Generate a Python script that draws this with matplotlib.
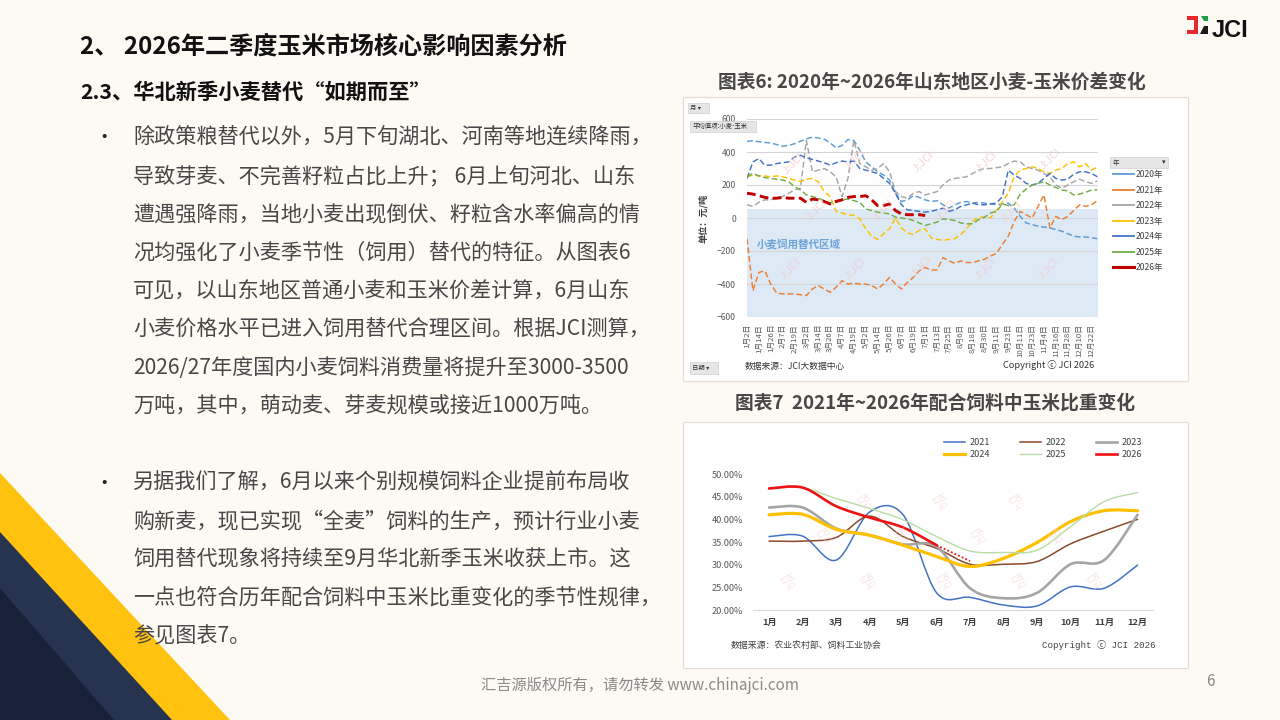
import matplotlib
matplotlib.use('Agg')
import matplotlib.pyplot as plt
from matplotlib.patches import Polygon, Rectangle, PathPatch
from matplotlib.path import Path
from matplotlib.lines import Line2D
import numpy as np

plt.rcParams['font.family'] = ['Noto Sans CJK SC', 'DejaVu Sans']

# ---------------- data: chart 6 (wheat - corn spread, yuan/ton) ----------------
date_labels = ["1月2日", "1月14日", "1月26日", "2月7日", "2月19日", "3月2日", "3月14日",
               "3月26日", "4月7日", "4月19日", "5月2日", "5月14日", "5月26日", "6月7日",
               "6月19日", "7月1日", "7月13日", "7月25日", "8月6日", "8月18日", "8月30日",
               "9月11日", "9月23日", "10月11日", "10月23日", "11月4日", "11月16日",
               "11月28日", "12月10日", "12月22日"]
spread_years = ["2020年", "2021年", "2022年", "2023年", "2024年", "2025年", "2026年"]
s2020 = [465, 468, 462, 458, 455, 445, 435, 440, 450, 465, 480, 490, 485, 478, 455,
         425, 440, 475, 470, 410, 340, 310, 280, 260, 230, 150, 100, 110, 135, 125,
         110, 100, 105, 80, 60, 80, 95, 100, 90, 95, 90, 85, 80, 85, 90,
         60, 10, -30, -40, -50, -55, -60, -70, -80, -95, -110, -115, -115, -120, -125]
s2021 = [-125, -440, -330, -320, -400, -455, -460, -460, -460, -465, -470, -430, -410, -430, -450,
         -420, -380, -400, -395, -400, -400, -410, -430, -400, -360, -400, -430, -390, -360, -320,
         -300, -315, -315, -240, -260, -275, -260, -270, -270, -260, -250, -230, -215, -160, -110,
         -20, 40, 20, 0, 70, 140, -60, 10, -10, 10, 45, 80, 70, 80, 105]
s2022 = [80, 70, 95, 110, 110, 120, 130, 150, 170, 180, 470, 280, 290, 300, 280,
         250, 130, 240, 470, 330, 310, 290, 300, 330, 280, 160, 130, 120, 150, 160,
         140, 150, 160, 200, 230, 240, 245, 250, 270, 290, 300, 300, 305, 310, 330,
         345, 340, 310, 300, 290, 270, 250, 200, 180, 200, 220, 235, 220, 210, 225]
s2023 = [250, 260, 255, 255, 250, 255, 250, 240, 230, 220, 235, 240, 220, 160, 130,
         40, 30, 20, 15, -5, -65, -110, -130, -95, -65, 0, -60, -90, -100, -75,
         -65, -120, -130, -135, -130, -125, -100, -65, -20, 5, 5, 0, 45, 100, 150,
         250, 290, 300, 310, 300, 280, 270, 290, 300, 330, 340, 310, 330, 290, 310]
s2024 = [240, 340, 360, 320, 320, 330, 335, 340, 370, 380, 365, 355, 345, 335, 320,
         335, 345, 340, 345, 300, 290, 280, 270, 240, 210, 150, 80, 50, 45, 40,
         35, 40, 50, 60, 40, 50, 70, 80, 90, 80, 80, 85, 90, 130, 290,
         260, 240, 210, 200, 210, 240, 270, 240, 230, 235, 265, 280, 280, 270, 250]
s2025 = [250, 270, 255, 245, 240, 235, 230, 220, 190, 170, 140, 130, 120, 105, 90,
         105, 110, 115, 105, 95, 55, 45, 35, 30, 25, 5, 0, -5, -15, -30,
         -45, -35, -25, -5, -10, -15, -30, -35, -35, -10, 5, 30, 40, 85, 75,
         80, 145, 175, 200, 210, 220, 200, 185, 170, 165, 140, 145, 155, 170, 170]
s2026 = [150, 145, 135, 125, 120, 120, 125, 120, 120, 120, 95, 115, 110, 100, 85,
         100, 110, 125, 130, 130, 135, 110, 75, 75, 85, 45, 25, 20, 20, 20, 15]
spread_colors = ['#5B9BD5', '#ED7D31', '#A5A5A5', '#FFC000', '#4472C4', '#70AD47', '#C00000']
zone_top = 55

# ---------------- data: chart 7 (corn share in compound feed, %) ----------------
months = ["1月", "2月", "3月", "4月", "5月", "6月", "7月", "8月", "9月", "10月", "11月", "12月"]
c2021 = [36.2, 36.3, 31.0, 41.6, 41.0, 23.8, 22.8, 21.1, 20.9, 25.1, 24.8, 29.9]
c2022 = [35.2, 35.2, 36.0, 40.7, 36.2, 33.6, 30.1, 30.1, 30.7, 34.6, 37.4, 40.0]
c2023 = [42.6, 42.6, 38.0, 36.5, 34.5, 34.0, 24.8, 22.6, 23.8, 30.1, 31.0, 41.0]
c2024 = [41.0, 41.1, 37.8, 36.5, 34.3, 31.8, 29.6, 31.4, 34.9, 39.5, 41.9, 41.9]
c2025 = [46.9, 47.0, 44.6, 42.4, 39.9, 36.2, 33.0, 32.7, 33.2, 38.4, 43.9, 45.9]
c2026 = [46.8, 47.0, 42.9, 40.4, 38.2, 34.3]
c2026_est = [34.3, 30.8]
share_years = ["2021", "2022", "2023", "2024", "2025", "2026"]
share_colors = ['#4472C4', '#8B4A2B', '#A5A5A5', '#FFC000', '#B9DCA4', '#EE1111']
share_widths = [1.1, 1.1, 1.9, 2.3, 1.0, 1.9]

# ---------------- text ----------------
title = "2、 2026年二季度玉米市场核心影响因素分析"
subtitle = "2.3、华北新季小麦替代“如期而至”"
para1 = ["除政策粮替代以外，5月下旬湖北、河南等地连续降雨，",
         "导致芽麦、不完善籽粒占比上升； 6月上旬河北、山东",
         "遭遇强降雨，当地小麦出现倒伏、籽粒含水率偏高的情",
         "况均强化了小麦季节性（饲用）替代的特征。从图表6",
         "可见，以山东地区普通小麦和玉米价差计算，6月山东",
         "小麦价格水平已进入饲用替代合理区间。根据JCI测算，",
         "2026/27年度国内小麦饲料消费量将提升至3000-3500",
         "万吨，其中，萌动麦、芽麦规模或接近1000万吨。"]
para2 = ["另据我们了解，6月以来个别规模饲料企业提前布局收",
         "购新麦，现已实现“全麦”饲料的生产，预计行业小麦",
         "饲用替代现象将持续至9月华北新季玉米收获上市。这",
         "一点也符合历年配合饲料中玉米比重变化的季节性规律，",
         "参见图表7。"]

W, H = 1280, 720
fig = plt.figure(figsize=(12.8, 7.2), dpi=100)
fig.patch.set_facecolor('#FDF9F3')


def P(x, y):
    return (x / W, 1 - y / H)


def frect(x0, y0, x1, y1, **kw):
    r = Rectangle(P(x0, y1), (x1 - x0) / W, (y1 - y0) / H, transform=fig.transFigure, **kw)
    fig.add_artist(r)
    return r


def ftext(x, y, s, **kw):
    return fig.text(x / W, 1 - y / H, s, **kw)


# decorative triangles bottom-left
for pts, col in [([(0, 473), (230, 720), (0, 720)], '#FFC20E'),
                 ([(0, 532), (172, 720), (0, 720)], '#27344F'),
                 ([(0, 588), (114, 720), (0, 720)], '#172238')]:
    fig.add_artist(Polygon([P(*p) for p in pts], closed=True, transform=fig.transFigure,
                           fc=col, ec='none', zorder=1))

# logo
fig.add_artist(Polygon([P(1187, 16), P(1198, 16), P(1198, 33.5), P(1187, 33.5), P(1187, 29.8),
                        P(1194.2, 29.8), P(1194.2, 19.7), P(1187, 19.7)], closed=True,
                       transform=fig.transFigure, fc='#E8262B', ec='none', zorder=3))
fig.add_artist(Polygon([P(1200.5, 16), P(1208, 16), P(1208, 20.5), P(1204, 20.5)], closed=True,
                       transform=fig.transFigure, fc='#1E9E49', ec='none', zorder=3))
fig.add_artist(Polygon([P(1204, 26), P(1208, 26), P(1208, 33.5), P(1200, 33.5)], closed=True,
                       transform=fig.transFigure, fc='#1A1A1A', ec='none', zorder=3))
ftext(1212, 30.5, "JCI", fontsize=17, fontweight='bold', family=['Liberation Sans', 'DejaVu Sans'],
      color='#111111', va='center', ha='left')

# titles
ftext(80, 47, title, fontsize=17.4, fontweight='bold', color='#111111', va='center')
ftext(80, 92, subtitle, fontsize=15.3, fontweight='bold', color='#111111', va='center')

body_col = '#474747'
ftext(104, 138, "•", fontsize=14, color='#222222', va='center', ha='center')
for k, line in enumerate(para1):
    ftext(133, 138 + k * 38.3, line, fontsize=15.2, color=body_col, va='center')
ftext(104, 483, "•", fontsize=14, color='#222222', va='center', ha='center')
for k, line in enumerate(para2):
    ftext(133, 483 + k * 38.3, line, fontsize=15.2, color=body_col, va='center')

ftext(640, 686, "汇吉源版权所有，请勿转发 www.chinajci.com", fontsize=11, color='#8A8A8A',
      ha='center', va='center')
ftext(1210, 681, "6", fontsize=11, color='#8A8A8A', ha='center', va='center')

# chart titles
ftext(932, 82, "图表6: 2020年~2026年山东地区小麦-玉米价差变化", fontsize=13.5,
      fontweight='bold', color='#474747', ha='center', va='center')
ftext(935, 403, "图表7  2021年~2026年配合饲料中玉米比重变化", fontsize=13.5,
      fontweight='bold', color='#474747', ha='center', va='center')

# chart boxes
frect(683, 97, 1188, 381, fc='white', ec='#E4DDD4', lw=0.9, zorder=1.2)
frect(683, 422, 1188, 668, fc='white', ec='#E4DDD4', lw=0.9, zorder=1.2)

# ================= chart 6 =================
ax6 = fig.add_axes([747 / W, 1 - 317 / H, (1098 - 747) / W, (317 - 119) / H])
ax6.set_zorder(2)
ax6.patch.set_alpha(0)
xs = np.arange(60) * 0.5
ax6.axhspan(-600, zone_top, color='#DDEAF6', lw=0, zorder=0.5)
series = [s2020, s2021, s2022, s2023, s2024, s2025]
for vals, col in zip(series, spread_colors[:6]):
    ax6.plot(xs[:len(vals)], vals, color=col, lw=1.05, ls=(0, (4, 2)), zorder=2)
ax6.plot(xs[:len(s2026)], s2026, color=spread_colors[6], lw=2.1, ls=(0, (3, 1.5)), zorder=3)
ax6.set_xlim(0, 29.55)
ax6.set_ylim(-600, 600)
ax6.set_yticks(range(-600, 601, 200))
ax6.set_xticks(range(len(date_labels)))
ax6.set_xticklabels(date_labels, rotation=90, fontsize=5.6, color='#595959', va='top', ha='center')
ax6.tick_params(axis='y', length=0, pad=8, labelsize=6.2, labelcolor='#595959')
ax6.tick_params(axis='x', length=0, pad=5)
ax6.yaxis.grid(True, color='#D4D4D4', lw=0.8)
for sp in ax6.spines.values():
    sp.set_visible(False)
ax6.text(0.85, -160, "小麦饲用替代区域", fontsize=7.6, color='#6FA3D6', va='center', ha='left',
         fontweight='bold', zorder=4)
ax6.set_ylabel("单位：元/吨", fontsize=6.6, fontweight='bold', color='#404040', labelpad=6)

leg = ax6.legend([Line2D([], [], color=c, lw=(2.2 if i == 6 else 1.3)) for i, c in enumerate(spread_colors)],
                 spread_years, loc='upper left', bbox_to_anchor=(1113 / W, 1 - 170 / H),
                 bbox_transform=fig.transFigure, frameon=False, fontsize=6.2, handlelength=2.4,
                 handletextpad=0.2, labelspacing=0.76, borderaxespad=0, borderpad=0)
for t in leg.get_texts():
    t.set_color('#404040')

# pivot buttons
for (x0, y0, x1, y1, s) in [(688, 103, 709, 112.5, "月 ▾"), (690, 121, 756, 131.5, "平均值项:小麦-玉米"),
                            (690, 362, 718, 374, "日期 ▾"), (1110, 157, 1168, 168, "年")]:
    frect(x0, y0, x1, y1, fc='#E6E6E6', ec='#D0D0D0', lw=0.5, zorder=4)
    ftext(x0 + 2.5, (y0 + y1) / 2, s, fontsize=4.6, color='#333333', va='center', ha='left', zorder=5)
ftext(1165, 162.5, "▾", fontsize=5, color='#333333', va='center', ha='right', zorder=5)

ftext(745, 366, "数据来源：JCI大数据中心", fontsize=6.3, color='#333333', va='center')
ftext(1003, 365, "Copyright ⓒ JCI 2026", fontsize=6.6, color='#333333', va='center')

# watermarks chart 6
for (wx, wy) in [(793, 164), (855, 160), (923, 162), (986, 162), (1050, 159),
                 (816, 210), (883, 210), (946, 210), (1011, 212),
                 (790, 269), (855, 269), (921, 267), (985, 269), (1048, 269)]:
    ftext(wx, wy, "J:JCI", fontsize=8, color='#F2C9C9', alpha=0.75, rotation=45,
          ha='center', va='center', zorder=2.5)

# ================= chart 7 =================
ax7 = fig.add_axes([753 / W, 1 - 610 / H, 400 / W, 136 / H])
ax7.set_zorder(2)
ax7.patch.set_alpha(0)


def smooth_path(xv, yv):
    pts = np.column_stack([xv, yv]).astype(float)
    n = len(pts)
    verts = [pts[0]]
    codes = [Path.MOVETO]
    for i in range(n - 1):
        p0 = pts[i - 1] if i > 0 else pts[i]
        p1, p2 = pts[i], pts[i + 1]
        p3 = pts[i + 2] if i + 2 < n else pts[i + 1]
        verts += [p1 + (p2 - p0) / 6.0, p2 - (p3 - p1) / 6.0, p2]
        codes += [Path.CURVE4] * 3
    return Path(verts, codes)


share_series = [c2021, c2022, c2023, c2024, c2025, c2026]
draw_order = [4, 0, 1, 2, 3, 5]
for k in draw_order:
    vals = share_series[k]
    pth = smooth_path(np.arange(len(vals)), vals)
    ax7.add_patch(PathPatch(pth, fill=False, ec=share_colors[k], lw=share_widths[k],
                            zorder=2 + k * 0.1, capstyle='round', joinstyle='round'))
ax7.plot([5, 6], c2026_est, color=share_colors[5], lw=1.3, ls=(0, (1, 1.2)), zorder=3)
ax7.set_xlim(-0.48, 11.46)
ax7.set_ylim(20, 50)
ax7.set_yticks(range(20, 51, 5))
ax7.set_yticklabels([f"{v:.2f}%" for v in range(20, 51, 5)])
ax7.set_xticks(range(12))
ax7.set_xticklabels(months)
ax7.tick_params(axis='y', length=0, pad=7, labelsize=6.6, labelcolor='#595959')
ax7.tick_params(axis='x', length=0, pad=6, labelsize=6.6, labelcolor='#404040')
for lab in ax7.get_xticklabels():
    lab.set_fontweight('bold')
for sp in ['top', 'right', 'left']:
    ax7.spines[sp].set_visible(False)
ax7.spines['bottom'].set_color('#D9D9D9')
ax7.spines['bottom'].set_linewidth(0.9)

handles = [Line2D([], [], color=share_colors[k], lw=share_widths[k]) for k in range(6)]
order = [0, 3, 1, 4, 2, 5]
leg7 = ax7.legend([handles[k] for k in order], [share_years[k] for k in order], ncol=3,
                  loc='upper left', bbox_to_anchor=(944 / W, 1 - 438 / H), bbox_transform=fig.transFigure,
                  frameon=False, fontsize=6.6, handlelength=2.3, handletextpad=0.45,
                  columnspacing=3.3, labelspacing=0.35, borderaxespad=0, borderpad=0)
for t in leg7.get_texts():
    t.set_color('#404040')

ftext(731, 645, "数据来源：农业农村部、饲料工业协会", fontsize=6.4, color='#404040', va='center')
ftext(1042, 645, "Copyright ⓒ JCI 2026", fontsize=6.6, color='#404040', va='center',
      family=['Liberation Mono', 'Noto Sans CJK SC', 'DejaVu Sans'])

for (wx, wy) in [(790, 583), (870, 582), (946, 582), (1020, 582), (1096, 582),
                 (826, 537), (903, 537), (980, 537), (1057, 537),
                 (866, 503), (942, 503), (1018, 503)]:
    ftext(wx, wy, "汇吉\nJCI", fontsize=5.5, color='#F6D3D3', alpha=0.7, rotation=30,
          ha='center', va='center', zorder=2.5, linespacing=0.9)

fig.savefig('out.png', dpi=100, facecolor=fig.get_facecolor())
